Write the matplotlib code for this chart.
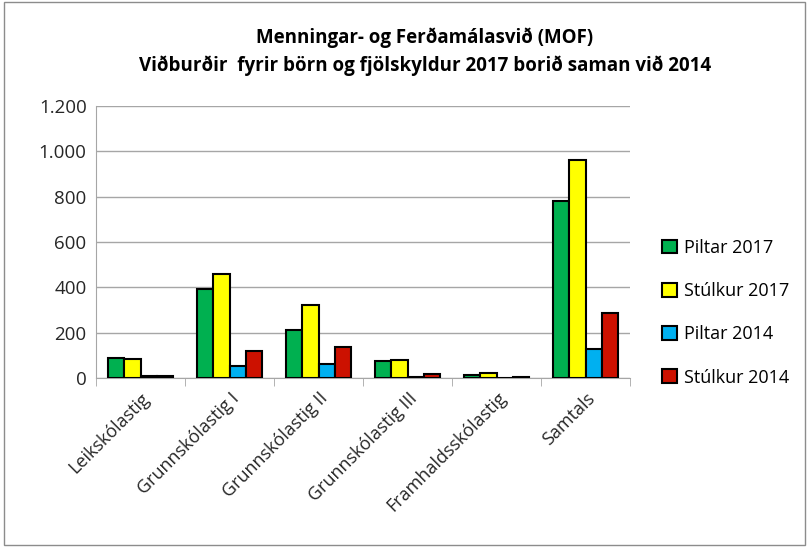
import matplotlib.pyplot as plt
import matplotlib.ticker as mticker
from matplotlib.patches import Rectangle
import numpy as np

plt.rcParams['font.family'] = ['Open Sans', 'DejaVu Sans']

categories = ['Leikskólastig', 'Grunnskólastig I', 'Grunnskólastig II',
              'Grunnskólastig III', 'Framhaldsskólastig', 'Samtals']
piltar_2017 = [88, 391, 212, 74, 13, 782]
stulkur_2017 = [85, 457, 322, 79, 22, 964]
piltar_2014 = [10, 55, 60, 5, 0, 128]
stulkur_2014 = [10, 117, 137, 18, 4, 288]

series = [('Piltar 2017', piltar_2017, '#00B050'),
          ('Stúlkur 2017', stulkur_2017, '#FFFF00'),
          ('Piltar 2014', piltar_2014, '#00B0F0'),
          ('Stúlkur 2014', stulkur_2014, '#CC1100')]

fig = plt.figure(figsize=(8.09, 5.47), dpi=100)
# grey outer border like the excel chart area
fig.patches.append(Rectangle((0.005, 0.003), 0.99, 0.994, transform=fig.transFigure,
                             fill=False, edgecolor='#8c8c8c', lw=1))
ax = fig.add_axes([0.119, 0.309, 0.66, 0.497])

x = np.arange(len(categories))
w = 0.183
for i, (name, vals, col) in enumerate(series):
    ax.bar(x + (i - 1.5) * w, vals, w, color=col, edgecolor='black', lw=1.5,
           label=name, zorder=3)

ax.set_ylim(0, 1200)
ax.set_xlim(-0.5, len(categories) - 0.5)
ax.yaxis.set_major_locator(mticker.MultipleLocator(200))
ax.yaxis.set_major_formatter(mticker.FuncFormatter(lambda v, p: f'{int(v):,}'.replace(',', '.')))
ax.grid(axis='y', color='#a6a6a6', lw=1, zorder=0)
ax.tick_params(axis='y', length=0, labelsize=13.5, pad=7, labelcolor='#262626')

ax.set_xticks(x)
ax.set_xticklabels(categories, rotation=45, ha='right', rotation_mode='anchor', fontsize=13)
ax.tick_params(axis='x', length=0, pad=8, labelcolor='#262626')
ax.set_xticks(np.arange(-0.5, len(categories)), minor=True)
ax.tick_params(axis='x', which='minor', length=6, color='#a6a6a6')

for s in ['top', 'right']:
    ax.spines[s].set_visible(False)
ax.spines['left'].set_color('#a6a6a6')
ax.spines['bottom'].set_color('#a6a6a6')

fig.text(0.525, 0.905, 'Menningar- og Ferðamálasvið (MOF)\nViðburðir  fyrir börn og fjölskyldur 2017 borið saman við 2014',
         ha='center', va='center', fontsize=13.5, fontweight='bold', linespacing=1.45)

ax.legend(loc='center left', bbox_to_anchor=(1.03, 0.24), frameon=False, fontsize=13,
          handlelength=0.8, handleheight=0.8, labelspacing=1.4, handletextpad=0.4)

fig.savefig('out.png', dpi=100)
